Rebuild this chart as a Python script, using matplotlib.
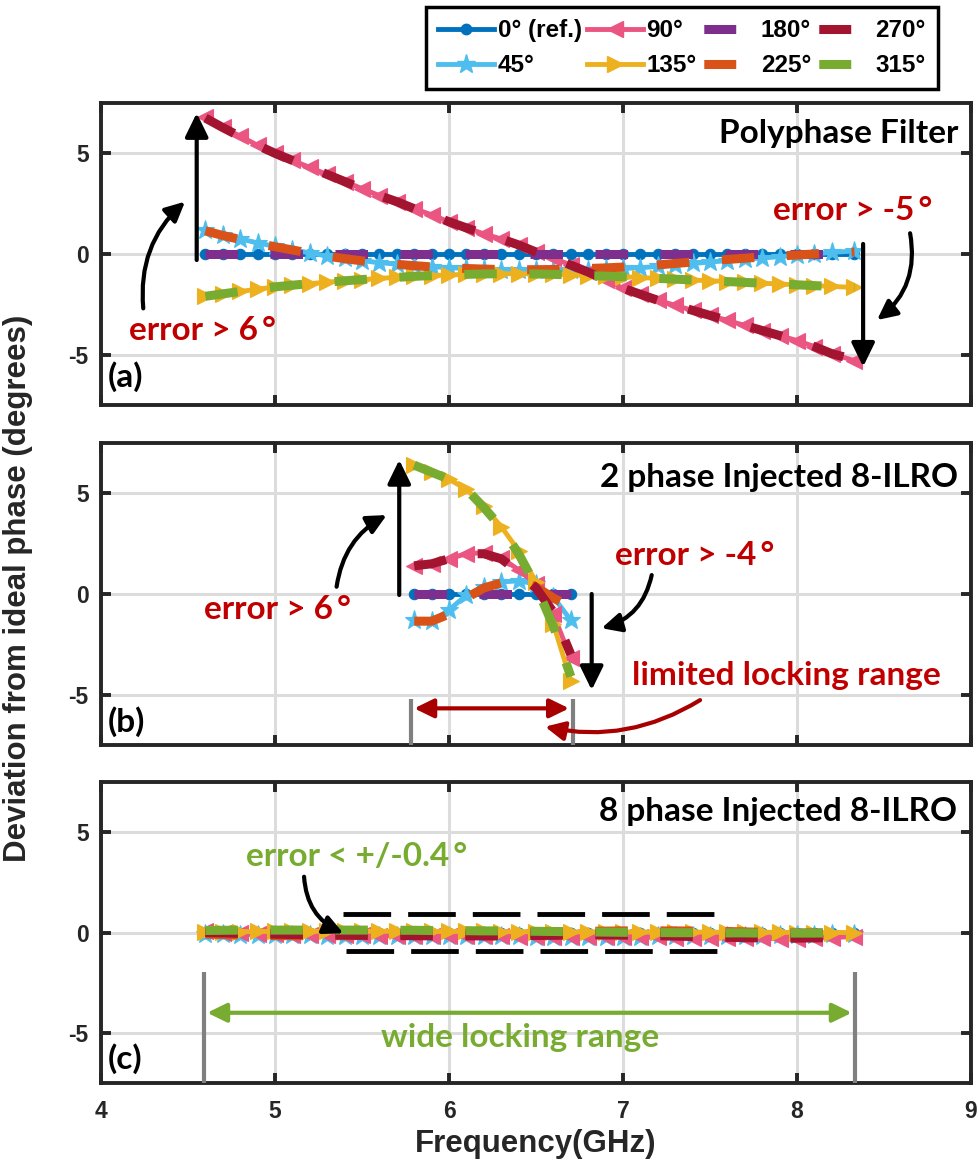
import matplotlib
matplotlib.use("Agg")
import matplotlib.pyplot as plt
from matplotlib.lines import Line2D

plt.rcParams['font.family'] = ['Liberation Sans', 'DejaVu Sans']
plt.rcParams['font.weight'] = 'bold'
plt.rcParams['axes.unicode_minus'] = False

# ---------------- data ----------------
labels = ['0° (ref.)', '45°', '90°', '135°', '180°', '225°', '270°', '315°']

# (a) polyphase filter, 4.6 - 8.33 GHz
freq_pf = [4.60, 4.70, 4.80, 4.90, 5.00, 5.10, 5.20, 5.30, 5.40, 5.50,
           5.60, 5.70, 5.80, 5.90, 6.00, 6.10, 6.20, 6.30, 6.40, 6.50,
           6.60, 6.70, 6.80, 6.90, 7.00, 7.10, 7.20, 7.30, 7.40, 7.50,
           7.60, 7.70, 7.80, 7.90, 8.00, 8.10, 8.20, 8.33]
pf_0 = [0.0] * 38
pf_45 = [1.20, 0.95, 0.75, 0.55, 0.38, 0.22, 0.05, -0.10, -0.22, -0.33,
         -0.43, -0.50, -0.57, -0.63, -0.68, -0.72, -0.76, -0.78, -0.80, -0.80,
         -0.80, -0.79, -0.77, -0.75, -0.72, -0.68, -0.62, -0.55, -0.47, -0.40,
         -0.33, -0.26, -0.20, -0.13, -0.07, 0.00, 0.08, 0.15]
pf_90 = [6.80, 6.30, 5.85, 5.40, 5.00, 4.65, 4.30, 3.95, 3.60, 3.25,
         2.90, 2.60, 2.25, 1.95, 1.60, 1.30, 1.00, 0.75, 0.45, 0.10,
         -0.20, -0.55, -0.90, -1.30, -1.70, -2.00, -2.30, -2.55, -2.80, -3.05,
         -3.30, -3.55, -3.80, -4.05, -4.30, -4.60, -4.95, -5.30]
pf_135 = [-2.10, -1.98, -1.86, -1.75, -1.63, -1.55, -1.47, -1.40, -1.33, -1.27,
          -1.21, -1.16, -1.11, -1.07, -1.04, -1.01, -0.99, -0.98, -0.98, -0.99,
          -1.01, -1.04, -1.07, -1.10, -1.13, -1.17, -1.21, -1.25, -1.29, -1.33,
          -1.37, -1.41, -1.45, -1.49, -1.53, -1.57, -1.61, -1.66]
pf_180 = [0.0] * 38
pf_225 = [1.15, 0.92, 0.72, 0.53, 0.36, 0.20, 0.04, -0.11, -0.23, -0.34,
          -0.44, -0.51, -0.58, -0.64, -0.68, -0.72, -0.75, -0.77, -0.78, -0.78,
          -0.77, -0.75, -0.72, -0.69, -0.65, -0.60, -0.54, -0.47, -0.40, -0.33,
          -0.27, -0.21, -0.15, -0.10, -0.05, 0.00, 0.05, 0.10]
pf_270 = [6.75, 6.28, 5.83, 5.40, 5.00, 4.65, 4.30, 3.95, 3.60, 3.25,
          2.90, 2.60, 2.25, 1.95, 1.60, 1.30, 1.00, 0.75, 0.45, 0.10,
          -0.20, -0.55, -0.90, -1.30, -1.70, -2.00, -2.30, -2.55, -2.80, -3.05,
          -3.30, -3.55, -3.80, -4.05, -4.30, -4.60, -4.95, -5.25]
pf_315 = [-2.10, -1.98, -1.86, -1.75, -1.63, -1.55, -1.47, -1.40, -1.33, -1.27,
          -1.21, -1.16, -1.11, -1.07, -1.04, -1.01, -0.99, -0.98, -0.98, -0.99,
          -1.01, -1.04, -1.07, -1.10, -1.13, -1.17, -1.21, -1.25, -1.29, -1.33,
          -1.37, -1.41, -1.45, -1.49, -1.53, -1.57, -1.61, -1.66]

# (b) 2-phase injected 8-ILRO, 5.8 - 6.7 GHz
freq_2p = [5.80, 5.90, 6.00, 6.10, 6.20, 6.30, 6.40, 6.50, 6.60, 6.70]
tp_0 = [0.0] * 10
tp_45 = [-1.30, -1.35, -0.80, -0.05, 0.35, 0.60, 0.65, 0.50, -0.15, -1.30]
tp_90 = [1.40, 1.50, 1.75, 2.00, 2.05, 1.80, 1.20, 0.50, -1.00, -3.20]
tp_135 = [6.40, 6.05, 5.70, 5.20, 4.35, 3.35, 2.15, 0.60, -1.50, -4.30]
tp_180 = [0.0] * 10
tp_225 = [-1.35, -1.35, -1.00, -0.20, 0.30, 0.55, 0.70, 0.35, -0.20, -0.65]
tp_270 = [1.40, 1.50, 1.75, 2.00, 2.00, 1.75, 1.10, 0.30, -0.90, -3.00]
tp_315 = [6.40, 6.05, 5.70, 5.20, 4.30, 3.30, 2.00, 0.40, -1.60, -4.10]

# (c) 8-phase injected 8-ILRO, 4.6 - 8.33 GHz
freq_8p = freq_pf
ep_0 = [0.0] * 38
ep_45 = [-0.05, -0.08, -0.10, -0.12, -0.12, -0.13, -0.14, -0.15, -0.15, -0.16,
         -0.16, -0.17, -0.17, -0.18, -0.18, -0.18, -0.19, -0.19, -0.19, -0.20,
         -0.20, -0.20, -0.20, -0.20, -0.20, -0.20, -0.19, -0.19, -0.18, -0.18,
         -0.17, -0.16, -0.15, -0.14, -0.12, -0.10, -0.08, -0.05]
ep_90 = [0.05, 0.00, -0.04, -0.07, -0.09, -0.10, -0.11, -0.12, -0.13, -0.14,
         -0.15, -0.16, -0.17, -0.17, -0.18, -0.18, -0.19, -0.19, -0.20, -0.20,
         -0.21, -0.21, -0.22, -0.22, -0.23, -0.23, -0.24, -0.25, -0.25, -0.26,
         -0.27, -0.28, -0.29, -0.30, -0.30, -0.28, -0.25, -0.20]
ep_135 = [0.02, 0.03, 0.04, 0.05, 0.05, 0.06, 0.06, 0.06, 0.06, 0.06,
          0.06, 0.06, 0.05, 0.05, 0.05, 0.05, 0.05, 0.04, 0.04, 0.04,
          0.04, 0.03, 0.03, 0.03, 0.03, 0.02, 0.02, 0.02, 0.02, 0.02,
          0.01, 0.01, 0.01, 0.01, 0.00, 0.00, 0.00, 0.00]
ep_180 = [0.00, -0.01, -0.02, -0.03, -0.04, -0.04, -0.05, -0.05, -0.05, -0.05,
          -0.05, -0.05, -0.05, -0.05, -0.05, -0.05, -0.05, -0.05, -0.05, -0.05,
          -0.05, -0.05, -0.05, -0.05, -0.05, -0.05, -0.05, -0.05, -0.05, -0.05,
          -0.05, -0.05, -0.05, -0.04, -0.04, -0.03, -0.02, -0.01]
ep_225 = [-0.08, -0.10, -0.12, -0.14, -0.15, -0.16, -0.16, -0.16, -0.16, -0.15,
          -0.14, -0.13, -0.12, -0.10, -0.08, -0.06, -0.04, -0.02, 0.00, 0.02,
          0.04, 0.05, 0.06, 0.07, 0.08, 0.08, 0.08, 0.08, 0.07, 0.06,
          0.05, 0.03, 0.01, -0.01, -0.03, -0.04, -0.05, -0.05]
ep_270 = [0.00, -0.02, -0.04, -0.06, -0.08, -0.10, -0.11, -0.12, -0.13, -0.14,
          -0.15, -0.16, -0.16, -0.17, -0.17, -0.17, -0.17, -0.17, -0.16, -0.15,
          -0.14, -0.13, -0.12, -0.12, -0.13, -0.14, -0.16, -0.18, -0.20, -0.22,
          -0.24, -0.26, -0.27, -0.28, -0.28, -0.27, -0.25, -0.22]
ep_315 = [0.10, 0.11, 0.12, 0.12, 0.12, 0.12, 0.12, 0.12, 0.12, 0.12,
          0.12, 0.11, 0.11, 0.10, 0.10, 0.09, 0.08, 0.08, 0.07, 0.06,
          0.05, 0.04, 0.03, 0.02, 0.01, 0.00, 0.00, -0.01, -0.01, -0.02,
          -0.02, -0.02, -0.03, -0.03, -0.03, -0.03, -0.02, -0.02]

x_ticks = [4, 5, 6, 7, 8, 9]
y_ticks = [-5, 0, 5]

# ---------------- styles ----------------
colors = ['#0072BD', '#4DBEEE', '#EA5582', '#EDB120',
          '#7E2F8E', '#D95319', '#A2142F', '#77AC30']
markers = ['o', '*', '<', '>', None, None, None, None]
msizes = [7.5, 14, 11, 11, 0, 0, 0, 0]
DASH_LW = 6.5
SOLID_LW = 3.5
RED = '#C00000'
DARK_RED = '#A80000'
GREEN = '#77AC30'
GREY = '#808080'
AX_COLOR = '#262626'
ANN_FONT = ['Lato', 'DejaVu Sans']
ANN_SIZE = 24
DEG = '\u2009°'

W, H = 980, 1169
fig = plt.figure(figsize=(W / 100, H / 100), dpi=100)


def axes_px(left, top, right, bottom):
    return fig.add_axes([left / W, 1 - bottom / H, (right - left) / W, (bottom - top) / H])


ax_a = axes_px(101, 103, 971, 405)
ax_b = axes_px(101, 443, 971, 745)
ax_c = axes_px(101, 782, 971, 1083)


def draw_series(ax, freq, series):
    for i, y in enumerate(series):
        if markers[i] is not None:
            ax.plot(freq, y, color=colors[i], lw=SOLID_LW, marker=markers[i],
                    ms=msizes[i], mfc=colors[i], mec=colors[i], mew=0.8, zorder=3 + i * 0.1)
        else:
            ax.plot(freq, y, color=colors[i], lw=DASH_LW, dashes=(3.6, 3.6),
                    solid_capstyle='butt', dash_capstyle='butt', zorder=4 + i * 0.1)


def style_axes(ax, show_xlabels):
    ax.set_xlim(4, 9)
    ax.set_ylim(-7.5, 7.5)
    ax.set_xticks(x_ticks)
    ax.set_yticks(y_ticks)
    ax.grid(True, color='#DCDCDC', lw=2.2)
    ax.set_axisbelow(True)
    for sp in ax.spines.values():
        sp.set_linewidth(2.8)
        sp.set_color(AX_COLOR)
    ax.tick_params(direction='in', length=7.5, width=2.8, color=AX_COLOR,
                   top=True, right=True, labelsize=16.5, labelcolor=AX_COLOR)
    ax.tick_params(axis='y', pad=9)
    ax.tick_params(axis='x', pad=12)
    if not show_xlabels:
        ax.set_xticklabels([])


def arrow(ax, start, end, color='black', lw=3.0, style='-|>', rad=0.0, scale=32):
    ax.annotate('', xy=end, xytext=start,
                arrowprops=dict(arrowstyle=style + ',head_length=0.45,head_width=0.22',
                                color=color, lw=lw, shrinkA=0, shrinkB=0,
                                mutation_scale=scale,
                                connectionstyle='arc3,rad=%g' % rad),
                zorder=8)


def note(ax, x, y, s, color='black', ha='center'):
    ax.text(x, y, s, color=color, ha=ha, va='baseline', fontsize=ANN_SIZE,
            family=ANN_FONT, fontweight='bold', zorder=9)


# ---------------- (a) polyphase filter ----------------
draw_series(ax_a, freq_pf, [pf_0, pf_45, pf_90, pf_135, pf_180, pf_225, pf_270, pf_315])
style_axes(ax_a, False)
note(ax_a, 8.925, 5.51, 'Polyphase Filter', ha='right')
note(ax_a, 4.04, -6.6, '(a)', ha='left')
note(ax_a, 4.583, -4.28, 'error > 6' + DEG, color=RED)
note(ax_a, 8.32, 1.69, 'error > -5' + DEG, color=RED)
arrow(ax_a, (4.55, -0.3), (4.55, 7.0))
arrow(ax_a, (4.243, -2.7), (4.483, 2.6), rad=-0.25, scale=26)
arrow(ax_a, (8.38, 0.5), (8.38, -5.6))
arrow(ax_a, (8.65, 1.03), (8.46, -3.28), rad=-0.3, scale=26)

# ---------------- (b) 2-phase injected ----------------
draw_series(ax_b, freq_2p, [tp_0, tp_45, tp_90, tp_135, tp_180, tp_225, tp_270, tp_315])
style_axes(ax_b, False)
note(ax_b, 8.925, 5.33, '2 phase Injected 8-ILRO', ha='right')
note(ax_b, 4.04, -6.84, '(b)', ha='left')
note(ax_b, 5.014, -1.26, 'error > 6' + DEG, color=RED)
note(ax_b, 7.414, 1.44, 'error > -4' + DEG, color=RED)
note(ax_b, 7.94, -4.52, 'limited locking range', color=RED)
arrow(ax_b, (5.714, -0.05), (5.714, 6.66))
arrow(ax_b, (5.354, 0.36), (5.642, 3.92), rad=-0.25, scale=26)
arrow(ax_b, (6.82, 0.0), (6.82, -4.77))
arrow(ax_b, (7.165, 0.94), (6.877, -1.7), rad=-0.3, scale=26)
for fx in (5.78, 6.71):
    ax_b.plot([fx, fx], [-5.2, -7.5], color=GREY, lw=3, solid_capstyle='butt', zorder=6)
arrow(ax_b, (5.80, -5.68), (6.69, -5.68), color=DARK_RED, style='<|-|>', scale=26)
arrow(ax_b, (7.443, -5.27), (6.552, -6.59), color=DARK_RED, rad=-0.2, scale=26)

# ---------------- (c) 8-phase injected ----------------
draw_series(ax_c, freq_8p, [ep_0, ep_45, ep_90, ep_135, ep_180, ep_225, ep_270, ep_315])
style_axes(ax_c, True)
note(ax_c, 8.918, 5.57, '8 phase Injected 8-ILRO', ha='right')
note(ax_c, 4.04, -6.77, '(c)', ha='left')
note(ax_c, 5.469, 3.31, 'error < +/-0.4' + DEG, color=GREEN)
note(ax_c, 6.408, -5.69, 'wide locking range', color=GREEN)
ax_c.plot([5.39, 7.57], [0.9, 0.9], color='black', lw=3.5, dashes=(9.8, 3.5), zorder=7)
ax_c.plot([5.41, 7.59], [-0.92, -0.92], color='black', lw=3.5, dashes=(9.8, 3.5), zorder=7)
arrow(ax_c, (5.167, 2.78), (5.393, -0.04), rad=0.3, scale=26)
for fx in (4.59, 8.335):
    ax_c.plot([fx, fx], [-1.95, -7.5], color=GREY, lw=3, solid_capstyle='butt', zorder=6)
arrow(ax_c, (4.61, -4.0), (8.315, -4.0), color=GREEN, style='<|-|>', scale=26)

# ---------------- axis titles ----------------
fig.text(18 / W, 1 - 588 / H, 'Deviation from ideal phase (degrees)', rotation=90,
         ha='center', va='center', fontsize=22.5, fontweight='bold', color=AX_COLOR)
fig.text(536 / W, 1 - 1144 / H, 'Frequency(GHz)', ha='center', va='center',
         fontsize=22.5, fontweight='bold', color=AX_COLOR)

# ---------------- legend ----------------
handles = []
for i in range(8):
    if markers[i] is not None:
        handles.append(Line2D([], [], color=colors[i], lw=SOLID_LW, marker=markers[i],
                              ms=msizes[i], mfc=colors[i], mec=colors[i]))
    else:
        on, off, lead = 23 / DASH_LW, 12.0, 2 / DASH_LW
        handles.append(Line2D([], [], color=colors[i], lw=DASH_LW,
                              linestyle=(on + off - lead, (on, off)),
                              dash_capstyle='butt'))
leg = fig.legend(handles, labels, ncol=4, loc='upper left',
                 bbox_to_anchor=(426 / W, 1 - 7 / H), fontsize=17.5, numpoints=1,
                 handlelength=2.3, handletextpad=0.15, columnspacing=0.2,
                 labelspacing=0.5, borderpad=0.5, borderaxespad=0,
                 frameon=True, fancybox=False, framealpha=1, edgecolor='black')
leg.get_frame().set_linewidth(2.5)

fig.savefig('out.png', dpi=100)
